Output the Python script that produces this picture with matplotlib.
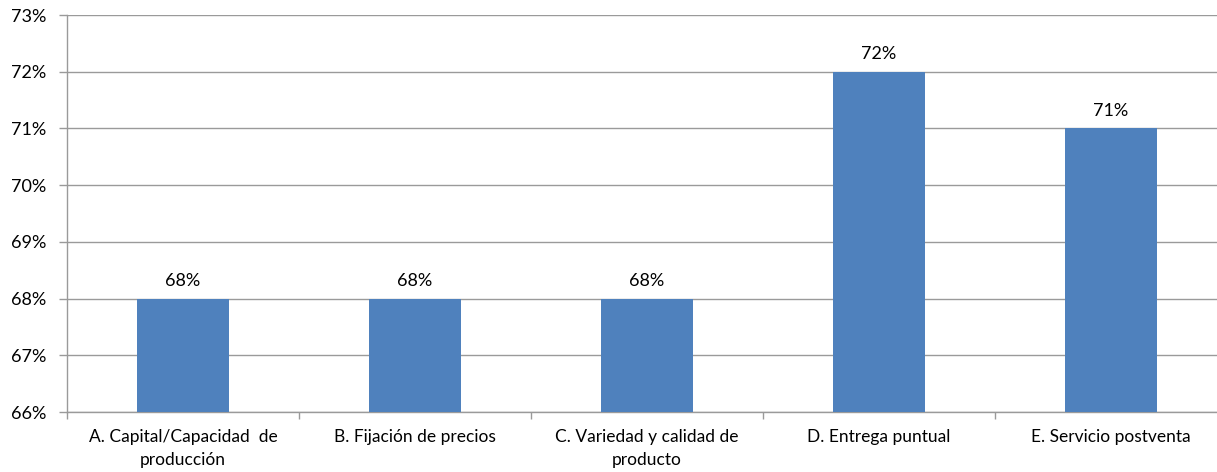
import numpy as np
import matplotlib.pyplot as plt

# Datos del gráfico
categorias = ['A. Capital/Capacidad  de\nproducción', 'B. Fijación de precios',
              'C. Variedad y calidad de\nproducto', 'D. Entrega puntual',
              'E. Servicio postventa']
valores = [68, 68, 68, 72, 71]
etiquetas = ['68%', '68%', '68%', '72%', '71%']

plt.rcParams['font.family'] = ['Lato', 'DejaVu Sans']

fig = plt.figure(figsize=(12.17, 4.72), dpi=100)
ax = fig.add_axes([67 / 1217, 1 - 412 / 472, (1227 - 67) / 1217, (412 - 15) / 472])

x = np.arange(len(categorias))
gris = '#9a9a9a'
ax.bar(x, valores, width=0.4, color='#4F81BD', zorder=3)
for xi, v, t in zip(x, valores, etiquetas):
    ax.text(xi, v + 0.17, t, ha='center', va='bottom', fontsize=13, color='#000000')

ax.set_xlim(-0.5, len(categorias) - 0.5)
ax.set_ylim(66, 73)
ax.set_yticks(range(66, 74))
ax.set_yticklabels([f'{t}%' for t in range(66, 74)], fontsize=13)
ax.yaxis.grid(True, color=gris, linewidth=1, zorder=0)

ax.set_xticks(x)
ax.set_xticklabels(categorias, fontsize=12.5, linespacing=1.6)
ax.tick_params(axis='x', which='major', length=0, pad=12)
ax.set_xticks(np.arange(-0.5, len(categorias)), minor=True)
ax.tick_params(axis='x', which='minor', length=5, color=gris, width=1)
ax.tick_params(axis='y', length=6, color=gris, width=1, pad=9)

for s in ['top', 'right']:
    ax.spines[s].set_visible(False)
for s in ['left', 'bottom']:
    ax.spines[s].set_color(gris)
    ax.spines[s].set_linewidth(1)

fig.savefig('out.png', dpi=100)
